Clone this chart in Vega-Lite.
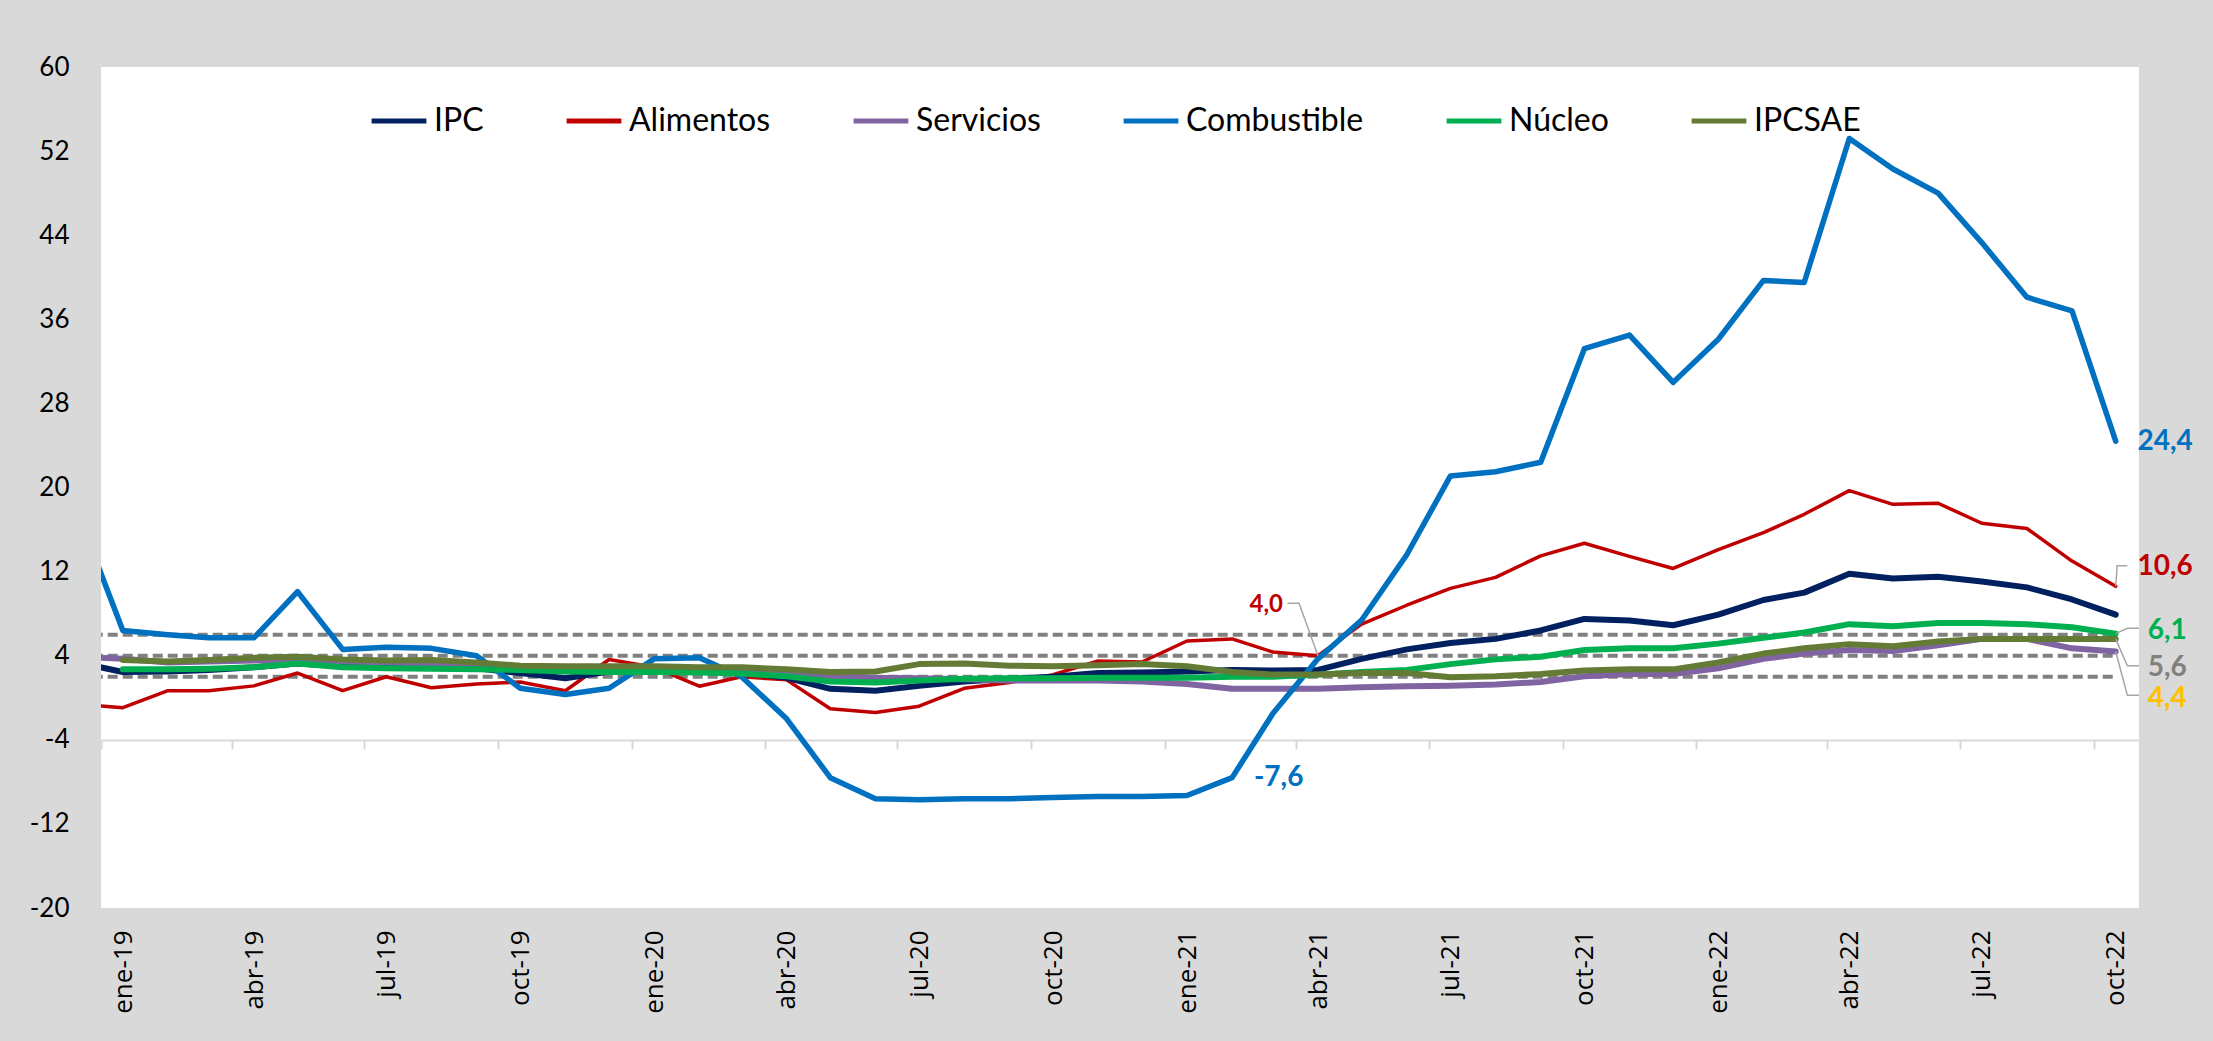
{
  "$schema": "https://vega.github.io/schema/vega-lite/v6.json",
  "width": 2038,
  "height": 841,
  "autosize": {"type": "none"},
  "padding": {"left": 101, "top": 67, "right": 74, "bottom": 133},
  "background": "#D9D9D9",
  "config": {"view": {"fill": "#FFFFFF", "stroke": null}, "font": "Lato"},
  "datasets": {
    "series": [
      {"fecha": "2018-12-16", "IPC": 3.35, "Alimentos": -0.6, "Servicios": 3.9, "Combustible": 17.6},
      {"fecha": "2019-01-16", "IPC": 2.45, "Alimentos": -0.95, "Servicios": 3.7, "Combustible": 6.4, "Núcleo": 2.7, "IPCSAE": 3.6},
      {"fecha": "2019-02-16", "IPC": 2.5, "Alimentos": 0.67, "Servicios": 3.35, "Combustible": 6.0, "Núcleo": 2.7, "IPCSAE": 3.45},
      {"fecha": "2019-03-16", "IPC": 2.65, "Alimentos": 0.67, "Servicios": 3.45, "Combustible": 5.7, "Núcleo": 2.75, "IPCSAE": 3.6},
      {"fecha": "2019-04-16", "IPC": 2.9, "Alimentos": 1.13, "Servicios": 3.55, "Combustible": 5.7, "Núcleo": 2.9, "IPCSAE": 3.8},
      {"fecha": "2019-05-16", "IPC": 3.25, "Alimentos": 2.35, "Servicios": 3.65, "Combustible": 10.1, "Núcleo": 3.25, "IPCSAE": 3.9},
      {"fecha": "2019-06-16", "IPC": 3.0, "Alimentos": 0.67, "Servicios": 3.45, "Combustible": 4.6, "Núcleo": 2.9, "IPCSAE": 3.65},
      {"fecha": "2019-07-16", "IPC": 2.9, "Alimentos": 2.0, "Servicios": 3.35, "Combustible": 4.8, "Núcleo": 2.8, "IPCSAE": 3.55},
      {"fecha": "2019-08-16", "IPC": 2.9, "Alimentos": 0.95, "Servicios": 3.25, "Combustible": 4.7, "Núcleo": 2.75, "IPCSAE": 3.6},
      {"fecha": "2019-09-16", "IPC": 2.8, "Alimentos": 1.3, "Servicios": 3.1, "Combustible": 4.0, "Núcleo": 2.7, "IPCSAE": 3.35},
      {"fecha": "2019-10-16", "IPC": 2.35, "Alimentos": 1.5, "Servicios": 3.0, "Combustible": 0.9, "Núcleo": 2.65, "IPCSAE": 3.05},
      {"fecha": "2019-11-16", "IPC": 1.85, "Alimentos": 0.67, "Servicios": 2.8, "Combustible": 0.3, "Núcleo": 2.5, "IPCSAE": 3.0},
      {"fecha": "2019-12-16", "IPC": 2.5, "Alimentos": 3.64, "Servicios": 2.8, "Combustible": 0.9, "Núcleo": 2.45, "IPCSAE": 3.0},
      {"fecha": "2020-01-16", "IPC": 2.65, "Alimentos": 2.9, "Servicios": 2.8, "Combustible": 3.7, "Núcleo": 2.45, "IPCSAE": 3.0},
      {"fecha": "2020-02-16", "IPC": 2.5, "Alimentos": 1.1, "Servicios": 2.7, "Combustible": 3.8, "Núcleo": 2.4, "IPCSAE": 2.9},
      {"fecha": "2020-03-16", "IPC": 2.45, "Alimentos": 2.0, "Servicios": 2.55, "Combustible": 2.0, "Núcleo": 2.3, "IPCSAE": 2.9},
      {"fecha": "2020-04-16", "IPC": 1.9, "Alimentos": 1.7, "Servicios": 2.3, "Combustible": -2.0, "Núcleo": 2.05, "IPCSAE": 2.7},
      {"fecha": "2020-05-16", "IPC": 0.85, "Alimentos": -1.05, "Servicios": 2.1, "Combustible": -7.6, "Núcleo": 1.55, "IPCSAE": 2.45},
      {"fecha": "2020-06-16", "IPC": 0.67, "Alimentos": -1.4, "Servicios": 1.9, "Combustible": -9.6, "Núcleo": 1.45, "IPCSAE": 2.5},
      {"fecha": "2020-07-16", "IPC": 1.13, "Alimentos": -0.8, "Servicios": 1.85, "Combustible": -9.7, "Núcleo": 1.65, "IPCSAE": 3.2},
      {"fecha": "2020-08-16", "IPC": 1.55, "Alimentos": 0.9, "Servicios": 1.75, "Combustible": -9.6, "Núcleo": 1.8, "IPCSAE": 3.25},
      {"fecha": "2020-09-16", "IPC": 1.8, "Alimentos": 1.45, "Servicios": 1.65, "Combustible": -9.6, "Núcleo": 1.85, "IPCSAE": 3.05},
      {"fecha": "2020-10-16", "IPC": 2.0, "Alimentos": 2.2, "Servicios": 1.65, "Combustible": -9.5, "Núcleo": 1.85, "IPCSAE": 3.0},
      {"fecha": "2020-11-16", "IPC": 2.35, "Alimentos": 3.5, "Servicios": 1.65, "Combustible": -9.4, "Núcleo": 1.9, "IPCSAE": 3.1},
      {"fecha": "2020-12-16", "IPC": 2.4, "Alimentos": 3.4, "Servicios": 1.55, "Combustible": -9.4, "Núcleo": 1.9, "IPCSAE": 3.2},
      {"fecha": "2021-01-16", "IPC": 2.5, "Alimentos": 5.4, "Servicios": 1.3, "Combustible": -9.3, "Núcleo": 1.9, "IPCSAE": 3.0},
      {"fecha": "2021-02-16", "IPC": 2.65, "Alimentos": 5.6, "Servicios": 0.85, "Combustible": -7.6, "Núcleo": 2.0, "IPCSAE": 2.45},
      {"fecha": "2021-03-16", "IPC": 2.6, "Alimentos": 4.35, "Servicios": 0.85, "Combustible": -1.5, "Núcleo": 2.0, "IPCSAE": 2.2},
      {"fecha": "2021-04-16", "IPC": 2.65, "Alimentos": 4.0, "Servicios": 0.85, "Combustible": 3.7, "Núcleo": 2.2, "IPCSAE": 2.2},
      {"fecha": "2021-05-16", "IPC": 3.7, "Alimentos": 7.0, "Servicios": 1.0, "Combustible": 7.4, "Núcleo": 2.45, "IPCSAE": 2.35},
      {"fecha": "2021-06-16", "IPC": 4.6, "Alimentos": 8.8, "Servicios": 1.1, "Combustible": 13.6, "Núcleo": 2.65, "IPCSAE": 2.35},
      {"fecha": "2021-07-16", "IPC": 5.2, "Alimentos": 10.4, "Servicios": 1.15, "Combustible": 21.1, "Núcleo": 3.2, "IPCSAE": 1.95},
      {"fecha": "2021-08-16", "IPC": 5.6, "Alimentos": 11.45, "Servicios": 1.25, "Combustible": 21.5, "Núcleo": 3.65, "IPCSAE": 2.05},
      {"fecha": "2021-09-16", "IPC": 6.4, "Alimentos": 13.5, "Servicios": 1.5, "Combustible": 22.4, "Núcleo": 3.9, "IPCSAE": 2.25},
      {"fecha": "2021-10-16", "IPC": 7.5, "Alimentos": 14.7, "Servicios": 2.05, "Combustible": 33.2, "Núcleo": 4.55, "IPCSAE": 2.6},
      {"fecha": "2021-11-16", "IPC": 7.35, "Alimentos": 13.45, "Servicios": 2.25, "Combustible": 34.5, "Núcleo": 4.7, "IPCSAE": 2.7},
      {"fecha": "2021-12-16", "IPC": 6.9, "Alimentos": 12.3, "Servicios": 2.25, "Combustible": 30.0, "Núcleo": 4.7, "IPCSAE": 2.7},
      {"fecha": "2022-01-16", "IPC": 7.9, "Alimentos": 14.1, "Servicios": 2.8, "Combustible": 34.1, "Núcleo": 5.15, "IPCSAE": 3.35},
      {"fecha": "2022-02-16", "IPC": 9.3, "Alimentos": 15.7, "Servicios": 3.7, "Combustible": 39.7, "Núcleo": 5.7, "IPCSAE": 4.2},
      {"fecha": "2022-03-16", "IPC": 10.0, "Alimentos": 17.45, "Servicios": 4.2, "Combustible": 39.5, "Núcleo": 6.2, "IPCSAE": 4.7},
      {"fecha": "2022-04-16", "IPC": 11.8, "Alimentos": 19.7, "Servicios": 4.55, "Combustible": 53.2, "Núcleo": 7.0, "IPCSAE": 5.1},
      {"fecha": "2022-05-16", "IPC": 11.35, "Alimentos": 18.4, "Servicios": 4.45, "Combustible": 50.3, "Núcleo": 6.8, "IPCSAE": 4.9},
      {"fecha": "2022-06-16", "IPC": 11.5, "Alimentos": 18.5, "Servicios": 5.0, "Combustible": 48.0, "Núcleo": 7.1, "IPCSAE": 5.35},
      {"fecha": "2022-07-16", "IPC": 11.05, "Alimentos": 16.6, "Servicios": 5.6, "Combustible": 43.3, "Núcleo": 7.1, "IPCSAE": 5.6},
      {"fecha": "2022-08-16", "IPC": 10.5, "Alimentos": 16.1, "Servicios": 5.6, "Combustible": 38.1, "Núcleo": 7.0, "IPCSAE": 5.6},
      {"fecha": "2022-09-16", "IPC": 9.35, "Alimentos": 13.0, "Servicios": 4.7, "Combustible": 36.8, "Núcleo": 6.7, "IPCSAE": 5.6},
      {"fecha": "2022-10-16", "IPC": 7.9, "Alimentos": 10.6, "Servicios": 4.4, "Combustible": 24.4, "Núcleo": 6.1, "IPCSAE": 5.6}
    ],
    "metas": [
      {"fecha": "2018-12-16", "hasta": "2022-10-16", "valor": 2},
      {"fecha": "2018-12-16", "hasta": "2022-10-16", "valor": 4},
      {"fecha": "2018-12-16", "hasta": "2022-10-16", "valor": 6}
    ],
    "etiquetas": [
      {"fecha": "2022-10-31", "valor": 24.3, "texto": "24,4", "serie": "Combustible"},
      {"fecha": "2022-10-31", "valor": 12.4, "texto": "10,6", "serie": "Alimentos"},
      {"fecha": "2022-11-07", "valor": 6.35, "texto": "6,1", "serie": "Núcleo"},
      {"fecha": "2022-11-07", "valor": 2.85, "texto": "5,6", "serie": "IPCSAE"},
      {"fecha": "2022-11-07", "valor": -0.1, "texto": "4,4", "serie": "Servicios"},
      {"fecha": "2021-03-03", "valor": -7.6, "texto": "-7,6", "serie": "Combustible"},
      {"fecha": "2021-02-28", "valor": 8.8, "texto": "4,0", "serie": "Alimentos"}
    ],
    "guias": [
      {"guia": "a", "paso": 1, "fecha": "2022-10-16", "valor": 10.6},
      {"guia": "a", "paso": 2, "fecha": "2022-10-17", "valor": 12.55},
      {"guia": "a", "paso": 3, "fecha": "2022-10-24", "valor": 12.55},
      {"guia": "b", "paso": 1, "fecha": "2022-10-16", "valor": 6.1},
      {"guia": "b", "paso": 2, "fecha": "2022-10-24", "valor": 6.6},
      {"guia": "b", "paso": 3, "fecha": "2022-11-01", "valor": 6.6},
      {"guia": "c", "paso": 1, "fecha": "2022-10-16", "valor": 5.6},
      {"guia": "c", "paso": 2, "fecha": "2022-10-24", "valor": 3.04},
      {"guia": "c", "paso": 3, "fecha": "2022-11-01", "valor": 3.04},
      {"guia": "d", "paso": 1, "fecha": "2022-10-16", "valor": 4.4},
      {"guia": "d", "paso": 2, "fecha": "2022-10-24", "valor": 0.24},
      {"guia": "d", "paso": 3, "fecha": "2022-11-01", "valor": 0.24},
      {"guia": "e", "paso": 1, "fecha": "2021-03-26", "valor": 9.0},
      {"guia": "e", "paso": 2, "fecha": "2021-04-03", "valor": 9.0},
      {"guia": "e", "paso": 3, "fecha": "2021-04-16", "valor": 4.0}
    ]
  },
  "encoding": {
    "x": {
      "field": "fecha",
      "type": "temporal",
      "scale": {
        "type": "utc",
        "domain": [
          {"year": 2019, "month": 1, "date": 1, "utc": true},
          {"year": 2022, "month": 11, "date": 1, "utc": true}
        ]
      },
      "axis": {
        "title": null,
        "orient": "bottom",
        "offset": -168,
        "values": [
          {"year": 2019, "month": 1, "date": 1, "utc": true},
          {"year": 2019, "month": 4, "date": 1, "utc": true},
          {"year": 2019, "month": 7, "date": 1, "utc": true},
          {"year": 2019, "month": 10, "date": 1, "utc": true},
          {"year": 2020, "month": 1, "date": 1, "utc": true},
          {"year": 2020, "month": 4, "date": 1, "utc": true},
          {"year": 2020, "month": 7, "date": 1, "utc": true},
          {"year": 2020, "month": 10, "date": 1, "utc": true},
          {"year": 2021, "month": 1, "date": 1, "utc": true},
          {"year": 2021, "month": 4, "date": 1, "utc": true},
          {"year": 2021, "month": 7, "date": 1, "utc": true},
          {"year": 2021, "month": 10, "date": 1, "utc": true},
          {"year": 2022, "month": 1, "date": 1, "utc": true},
          {"year": 2022, "month": 4, "date": 1, "utc": true},
          {"year": 2022, "month": 7, "date": 1, "utc": true},
          {"year": 2022, "month": 10, "date": 1, "utc": true}
        ],
        "labelExpr": "['ene','feb','mar','abr','may','jun','jul','ago','sep','oct','nov','dic'][utcmonth(datum.value)] + '-' + utcFormat(datum.value, '%y')",
        "labelAngle": 270,
        "labelOffset": 22,
        "labelPadding": 181,
        "labelFont": "Open Sans",
        "labelFontSize": 26,
        "labelColor": "#000000",
        "labelOverlap": false,
        "labelFlush": false,
        "labelBound": false,
        "domainColor": "#D9D9D9",
        "domainWidth": 2,
        "tickColor": "#D9D9D9",
        "tickWidth": 2,
        "tickSize": 9,
        "grid": false
      }
    },
    "y": {
      "field": "valor",
      "type": "quantitative",
      "scale": {"domain": [-20, 60], "nice": false, "zero": false},
      "axis": {
        "title": null,
        "values": [-20, -12, -4, 4, 12, 20, 28, 36, 44, 52, 60],
        "labelExpr": "'' + datum.value",
        "domain": false,
        "ticks": false,
        "grid": false,
        "labelFont": "Lato",
        "labelFontSize": 26,
        "labelColor": "#000000",
        "labelPadding": 32
      }
    }
  },
  "layer": [
    {
      "data": {"name": "metas"},
      "mark": {"type": "rule", "color": "#808080", "strokeWidth": 4, "strokeDash": [10, 5], "clip": true},
      "encoding": {"x2": {"field": "hasta"}}
    },
    {
      "data": {"name": "series"},
      "transform": [
        {"fold": ["Alimentos", "IPC", "Servicios", "Núcleo", "IPCSAE", "Combustible"], "as": ["serie", "valor"]},
        {"filter": "isValid(datum.valor)"}
      ],
      "mark": {"type": "line", "clip": true, "strokeJoin": "round", "strokeCap": "round"},
      "encoding": {
        "color": {
          "field": "serie",
          "type": "nominal",
          "scale": {
            "domain": ["IPC", "Alimentos", "Servicios", "Combustible", "Núcleo", "IPCSAE"],
            "range": ["#002060", "#C00000", "#8064A2", "#0070C0", "#00B050", "#647B36"]
          },
          "legend": {
            "title": null,
            "orient": "none",
            "legendX": 268,
            "legendY": 24,
            "direction": "horizontal",
            "symbolType": "stroke",
            "symbolSize": 3000,
            "symbolStrokeWidth": 5,
            "labelFont": "Lato",
            "labelFontSize": 32,
            "labelColor": "#000000",
            "labelOffset": 5,
            "labelLimit": 0,
            "columnPadding": 72,
            "padding": 0
          }
        },
        "strokeWidth": {
          "condition": [
            {"test": "datum.serie == 'Alimentos'", "value": 3.5},
            {"test": "datum.serie == 'Combustible'", "value": 5.5}
          ],
          "value": 6
        }
      }
    },
    {
      "data": {"name": "guias"},
      "mark": {"type": "line", "color": "#A6A6A6", "strokeWidth": 1.5},
      "encoding": {
        "detail": {"field": "guia", "type": "nominal"},
        "order": {"field": "paso", "type": "quantitative"}
      }
    },
    {
      "data": {"name": "etiquetas"},
      "transform": [{"filter": "datum.texto != '4,0'"}],
      "mark": {"type": "text", "align": "left", "baseline": "middle", "font": "Lato", "fontWeight": "bold", "fontSize": 28},
      "encoding": {
        "text": {"field": "texto"},
        "color": {
          "field": "serie",
          "type": "nominal",
          "scale": {
            "domain": ["Combustible", "Alimentos", "Núcleo", "IPCSAE", "Servicios"],
            "range": ["#0070C0", "#C00000", "#00B050", "#808080", "#FFC000"]
          },
          "legend": null
        }
      }
    },
    {
      "data": {"name": "etiquetas"},
      "transform": [{"filter": "datum.texto == '4,0'"}],
      "mark": {"type": "text", "align": "left", "baseline": "middle", "font": "Lato", "fontWeight": "bold", "fontSize": 24, "color": "#C00000"},
      "encoding": {"text": {"field": "texto"}}
    }
  ],
  "resolve": {"scale": {"color": "independent"}}
}
